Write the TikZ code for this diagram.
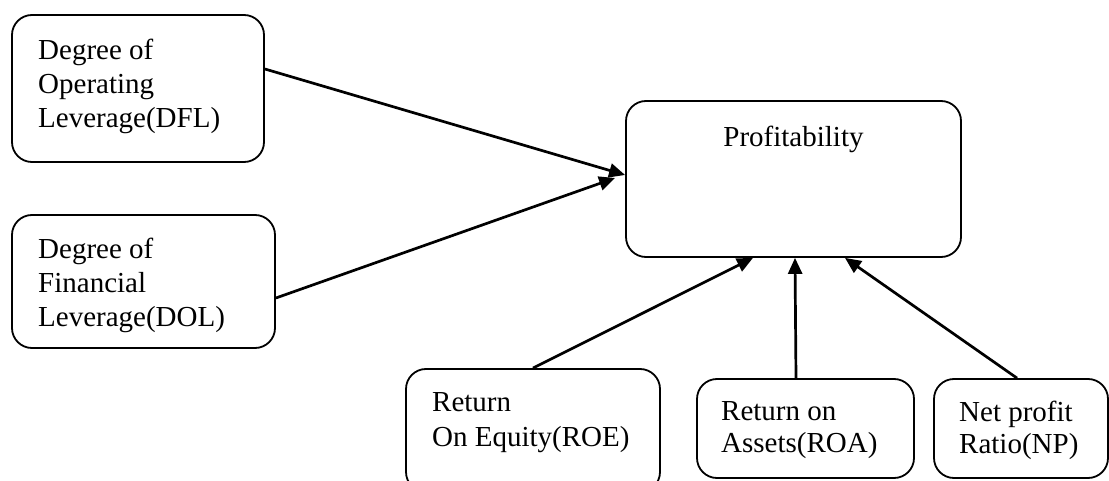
\documentclass[tikz,border=0pt]{standalone}
\usepackage{fontspec}
\setmainfont{Liberation Serif}
\usetikzlibrary{arrows.meta}
\begin{document}
\begin{tikzpicture}[x=1pt,y=-1pt,
  box/.style={draw, line width=1.8pt, rounded corners=20pt, inner sep=0pt},
  txt/.style={font=\fontsize{29}{34}\selectfont, align=left, inner sep=0pt, anchor=west},
  conn/.style={line width=2.7pt, -{Triangle[length=16pt,width=14pt]}}]
\useasboundingbox (0,0) rectangle (1109,481);
\clip (0,0) rectangle (1109,481);
% boxes
\node[box, minimum width=252pt, minimum height=147pt] (b1) at (138,88.5) {};
\node[box, minimum width=263pt, minimum height=133pt] (b2) at (143.5,281.5) {};
\node[box, minimum width=335pt, minimum height=156pt] (p) at (793.5,179) {};
\node[box, minimum width=254pt, minimum height=123pt] (roe) at (533,430.5) {};
\node[box, minimum width=217pt, minimum height=99pt] (roa) at (805.5,428.5) {};
\node[box, minimum width=174pt, minimum height=99pt] (np) at (1021,428.5) {};
% texts
\node[txt] (t1) at (38,86.5) {Degree of\\Operating\\Leverage(DFL)};
\node[txt] (t2) at (38,285) {Degree of\\Financial\\Leverage(DOL)};
\node[txt, anchor=base] (tp) at (793.5,147) {Profitability};
\node[txt, font=\fontsize{29}{35}\selectfont] (troe) at (432,423) {Return\\On Equity(ROE)};
\node[txt, font=\fontsize{29}{32}\selectfont] (troa) at (721,430.5) {Return on\\Assets(ROA)};
\node[txt, font=\fontsize{29}{32}\selectfont] (tnp) at (959,430.5) {Net profit\\Ratio(NP)};
% connectors
\draw[conn] ([yshift=19.5pt]b1.east) -- ([yshift=4pt]p.west);
\draw[conn] ([yshift=-16.5pt]b2.east) -- ([xshift=-10pt,yshift=1pt]p.west);
\draw[conn] (roe.north) -- ([xshift=-40.5pt]p.south);
\draw[conn] ([xshift=-9.5pt]roa.north) -- ([xshift=1.5pt]p.south);
\draw[conn] ([xshift=-4pt]np.north) -- ([xshift=51.5pt]p.south);
\end{tikzpicture}
\end{document}
